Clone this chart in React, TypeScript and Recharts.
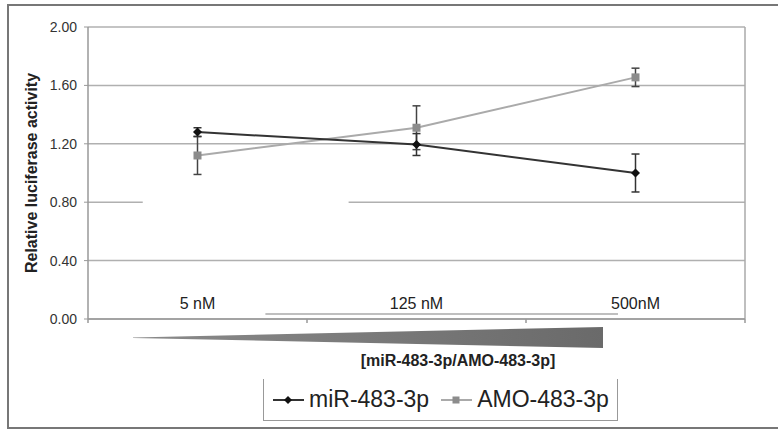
import React from 'react';
import { LineChart, Line, XAxis, YAxis, CartesianGrid, ErrorBar, Legend, ReferenceLine } from 'recharts';

const categories = ['5 nM', '125 nM', '500nM'];
const mirValues = [1.28, 1.195, 1.0];
const mirErrors = [0.03, 0.075, 0.13];
const amoValues = [1.12, 1.31, 1.655];
const amoErrors = [0.13, 0.15, 0.063];
const yTicks = [0, 0.4, 0.8, 1.2, 1.6, 2.0];
const xTicks = [0, 0.5, 1, 1.5, 2, 2.5, 3];
const seriesNames = ['miR-483-3p', 'AMO-483-3p'];
const axisTitle = '[miR-483-3p/AMO-483-3p]';
const yTitle = 'Relative luciferase activity';
// leftovers of the original figure: a hidden bit of the 0.80 line and a stray line above the axis
const gridGapX = [0.25, 1.19];
const strayLineX = [0.81, 2.42];
const strayLineY = 0.035;

const data = categories.map((c, i) => ({
  x: i + 0.5,
  name: c,
  mir: mirValues[i],
  mirErr: mirErrors[i],
  amo: amoValues[i],
  amoErr: amoErrors[i],
}));

const FONT = '"Liberation Sans", Arial, sans-serif';

const Diamond = (props: any) => {
  const { cx, cy } = props;
  if (cx == null || cy == null) return null;
  return <polygon points={`${cx},${cy - 4.5} ${cx + 4.5},${cy} ${cx},${cy + 4.5} ${cx - 4.5},${cy}`} fill="#111" />;
};

const Square = (props: any) => {
  const { cx, cy } = props;
  if (cx == null || cy == null) return null;
  return <rect x={cx - 4} y={cy - 4} width={8} height={8} fill="#8c8c8c" />;
};

const XTick = (props: any) => {
  const { x, y, payload } = props;
  const v = payload.value;
  if (Number.isInteger(v)) {
    return <line x1={x} x2={x} y1={y} y2={y + 4} stroke="#999" strokeWidth={1.5} />;
  }
  return (
    <text x={x} y={y - 10} textAnchor="middle" fontSize={16} fill="#222" fontFamily={FONT}>
      {categories[Math.floor(v)]}
    </text>
  );
};

const XTitle = (props: any) => {
  const { x, y } = props.viewBox;
  return (
    <g>
      <defs>
        <linearGradient id="wedge" x1="0" x2="1" y1="0" y2="0">
          <stop offset="0%" stopColor="#8a8a8a" />
          <stop offset="100%" stopColor="#6a6a6a" />
        </linearGradient>
      </defs>
      <polygon
        points={`${x + 45},${y + 18.5} ${x + 515},${y + 8} ${x + 515},${y + 29} ${x + 45},${y + 19}`}
        fill="url(#wedge)"
      />
      <text x={x + 370} y={y + 47} textAnchor="middle" fontSize={16} fontWeight="bold" fill="#222" fontFamily={FONT}>
        {axisTitle}
      </text>
    </g>
  );
};

const YTitle = (props: any) => {
  const { x, y, height } = props.viewBox;
  const cx = x + 31;
  const cy = y + height / 2;
  return (
    <text
      x={cx}
      y={cy}
      transform={`rotate(-90, ${cx}, ${cy})`}
      textAnchor="middle"
      dominantBaseline="central"
      fontSize={16}
      fontWeight="bold"
      fill="#222"
      fontFamily={FONT}
    >
      {yTitle}
    </text>
  );
};

const LegendBox = () => (
  <div
    style={{
      width: 355,
      height: 42,
      boxSizing: 'border-box',
      borderLeft: '1.5px solid #999',
      borderRight: '1.5px solid #999',
      borderBottom: '1.5px solid #999',
      display: 'flex',
      alignItems: 'center',
      paddingLeft: 8,
      fontFamily: FONT,
      fontSize: 23,
      color: '#222',
    }}
  >
    <svg width={34} height={20}>
      <line x1={1} x2={32} y1={10} y2={10} stroke="#333" strokeWidth={2} />
      <polygon points="16,6 20,10 16,14 12,10" fill="#111" />
    </svg>
    <span style={{ marginLeft: 3 }}>{seriesNames[0]}</span>
    <svg width={34} height={20} style={{ marginLeft: 11 }}>
      <line x1={1} x2={32} y1={10} y2={10} stroke="#aaa" strokeWidth={2} />
      <rect x={12.5} y={6.5} width={7} height={7} fill="#8c8c8c" />
    </svg>
    <span style={{ marginLeft: 3 }}>{seriesNames[1]}</span>
  </div>
);

export default function App() {
  return (
    <div style={{ position: 'absolute', left: 0, top: 0, width: 778, height: 430, background: '#fff', fontFamily: FONT }}>
      <div
        style={{
          position: 'absolute',
          left: 7,
          top: 4,
          width: 771,
          height: 421,
          borderTop: '2px solid #777',
          borderLeft: '2px solid #777',
          borderBottom: '2px solid #777',
        }}
      />
      <LineChart width={778} height={430} data={data} margin={{ top: 27, right: 33, bottom: 0, left: 0 }}>
        <CartesianGrid horizontal vertical={false} stroke="#b0b0b0" strokeWidth={1.5} />
        <ReferenceLine
          segment={[{ x: gridGapX[0], y: 0.8 }, { x: gridGapX[1], y: 0.8 }]}
          stroke="#fff"
          strokeWidth={3}
        />
        <ReferenceLine
          segment={[{ x: strayLineX[0], y: strayLineY }, { x: strayLineX[1], y: strayLineY }]}
          stroke="#aaa"
          strokeWidth={1.5}
        />
        <ReferenceLine x={3} stroke="#aaa" strokeWidth={1.5} />
        <XAxis
          type="number"
          dataKey="x"
          domain={[0, 3]}
          ticks={xTicks}
          interval={0}
          tick={<XTick />}
          tickLine={false}
          tickSize={0}
          tickMargin={0}
          height={111}
          axisLine={{ stroke: '#999', strokeWidth: 1.5 }}
          label={<XTitle />}
        />
        <YAxis
          domain={[0, 2]}
          ticks={yTicks}
          interval={0}
          width={88}
          tickFormatter={(v: number) => v.toFixed(2)}
          tick={{ fontSize: 14, fill: '#333', fontFamily: FONT }}
          tickSize={4}
          tickMargin={7}
          tickLine={{ stroke: '#999' }}
          axisLine={{ stroke: '#999', strokeWidth: 1.5 }}
          label={<YTitle />}
        />
        <Legend
          verticalAlign="middle"
          align="center"
          layout="horizontal"
          content={<LegendBox />}
          wrapperStyle={{ left: 263, top: 379, width: 355, height: 42 }}
        />
        <Line
          type="linear"
          dataKey="amo"
          name={seriesNames[1]}
          stroke="#aaa"
          strokeWidth={2}
          dot={<Square />}
          activeDot={false}
          isAnimationActive={false}
        >
          <ErrorBar dataKey="amoErr" width={4} stroke="#444" strokeWidth={1.5} direction="y" isAnimationActive={false} />
        </Line>
        <Line
          type="linear"
          dataKey="mir"
          name={seriesNames[0]}
          stroke="#333"
          strokeWidth={2}
          dot={<Diamond />}
          activeDot={false}
          isAnimationActive={false}
        >
          <ErrorBar dataKey="mirErr" width={4} stroke="#333" strokeWidth={1.5} direction="y" isAnimationActive={false} />
        </Line>
      </LineChart>
    </div>
  );
}
